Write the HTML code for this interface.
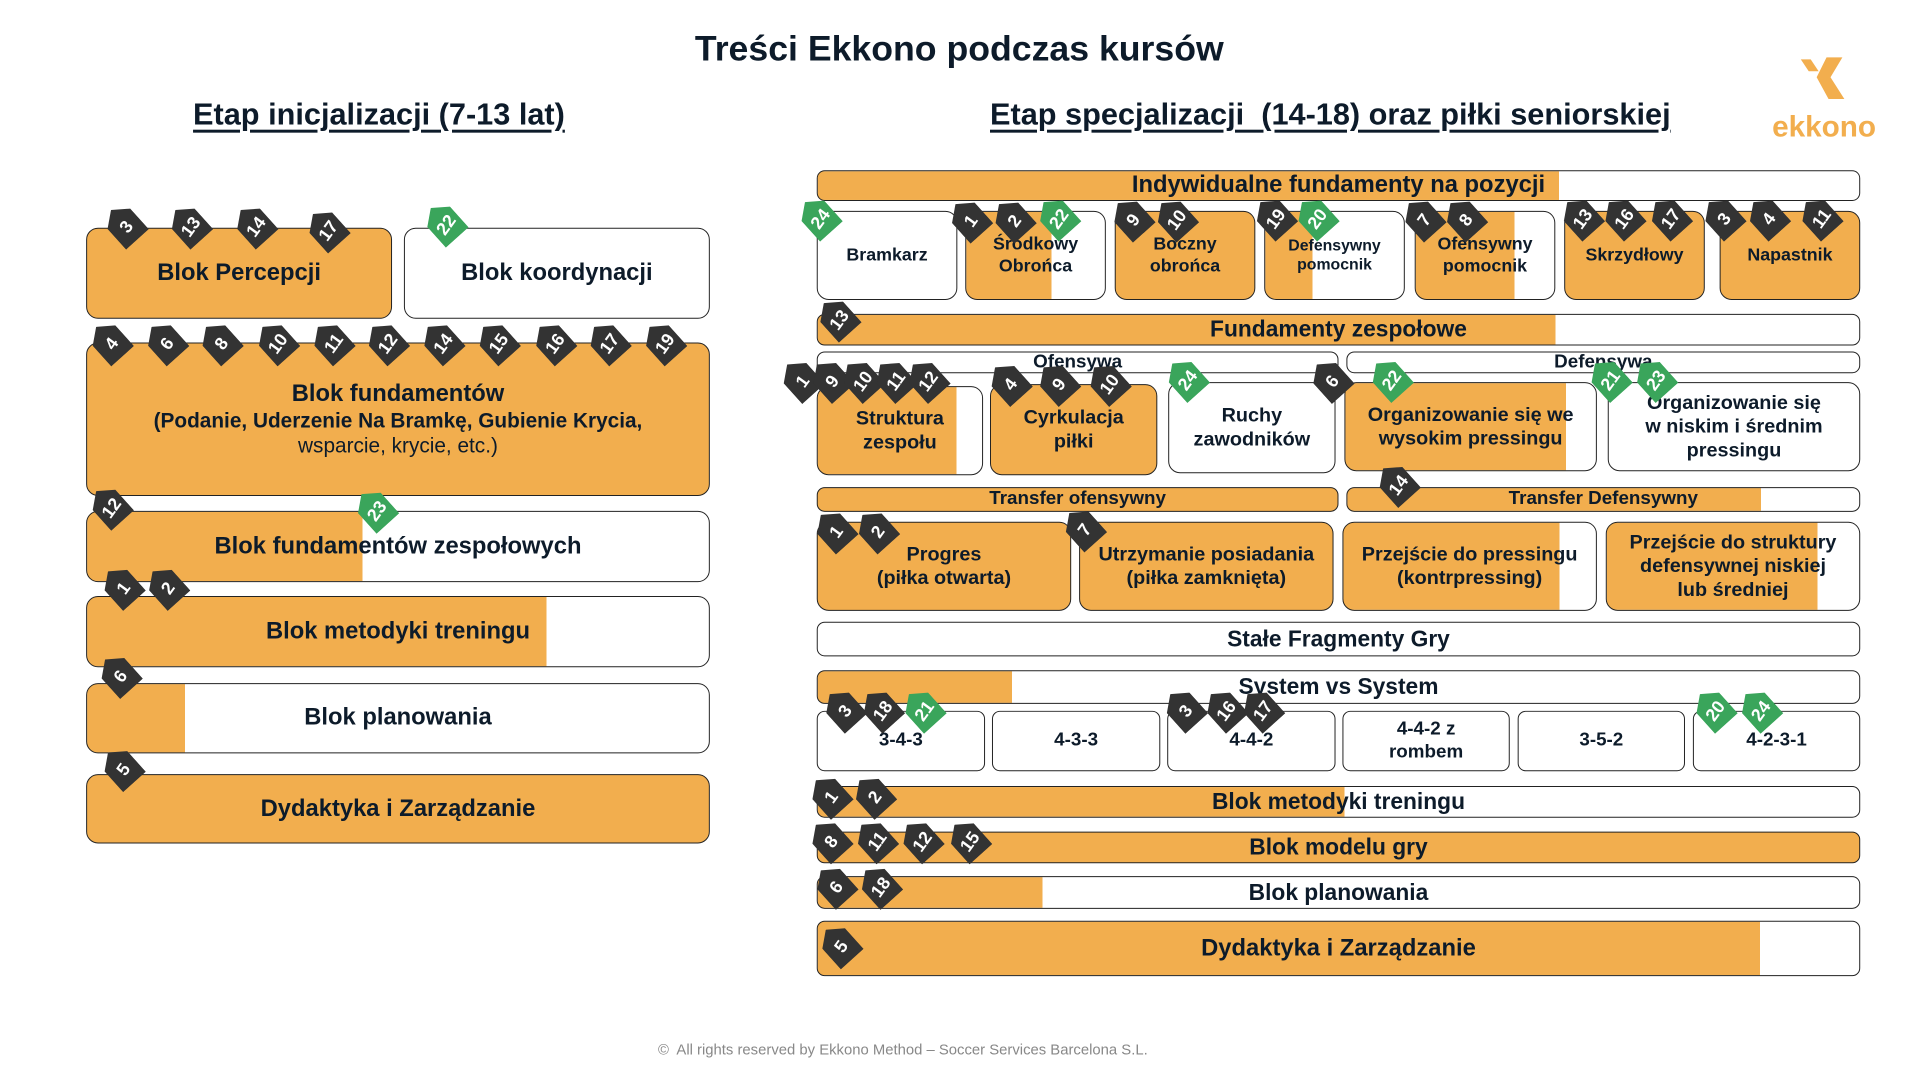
<!DOCTYPE html>
<html><head><meta charset="utf-8"><style>
*{margin:0;padding:0;box-sizing:border-box}
body{width:1920px;height:1080px;background:#fff;position:relative;overflow:hidden;font-family:"Liberation Sans Narrow","Liberation Sans",sans-serif;color:#0d1b2a}
#w{position:absolute;left:0;top:0;width:1940px;height:1090px;transform:scale(0.99);transform-origin:0 0}
.a{position:absolute}
.bx{position:absolute;border:1.5px solid #222;border-radius:12px;display:flex;align-items:center;justify-content:center;text-align:center;font-weight:bold;line-height:1.2;background:#fff}
.o{background:#F2AE4E}
.s{border-radius:8px}
.b{position:absolute;width:31px;height:40px;background:#333;clip-path:polygon(50% 0,100% 30%,100% 100%,0 100%,0 30%);transform:rotate(-42deg);color:#fff;font:bold 18px "Liberation Sans",sans-serif;display:flex;align-items:center;justify-content:center;z-index:5}
.b span{transform:rotate(-12deg);display:block;padding-top:7px}
.g{background:#3aa55b}
h1{position:absolute;left:0;width:1938px;top:28px;text-align:center;font:bold 36px "Liberation Sans",sans-serif}
.h2{position:absolute;font:bold 31px "Liberation Sans Narrow","Liberation Sans",sans-serif;text-decoration:underline;text-underline-offset:5px;text-decoration-thickness:3px}
</style></head><body><div id="w">
<h1>Treści Ekkono podczas kursów</h1>
<div class="h2" style="left:195px;top:98px">Etap inicjalizacji (7-13 lat)</div>
<div class="h2" style="left:1000px;top:98px">Etap specjalizacji&nbsp; (14-18) oraz piłki seniorskiej</div>
<svg class="a" style="left:1815px;top:56px" width="62" height="46"><polygon points="4,4 14,4 22,16 12,16" fill="#F2AE4E"/><polygon points="30,2 46,2 34,22 48,44 32,44 20,22" fill="#F2AE4E"/></svg>
<div class="a" style="left:1790px;top:112px;font:bold 30px 'Liberation Sans',sans-serif;color:#F2AE4E">ekkono</div>

<div class="bx o" style="left:87px;top:230px;width:309px;height:92px;font-size:24px">Blok Percepcji</div>
<div class="bx" style="left:408px;top:230px;width:309px;height:92px;font-size:24px">Blok koordynacji</div>
<div class="bx o" style="left:87px;top:346px;width:630px;height:155px;font-size:24px;flex-direction:column">Blok fundamentów<div style="font-size:21px">(Podanie, Uderzenie Na Bramkę, Gubienie Krycia,<br><span style="font-weight:normal">wsparcie, krycie, etc.)</span></div></div>
<div class="bx" style="left:87px;top:516px;width:630px;height:72px;font-size:24px;background:linear-gradient(90deg,#F2AE4E 278px,#fff 278px)">Blok fundamentów zespołowych</div>
<div class="bx" style="left:87px;top:602px;width:630px;height:72px;font-size:24px;background:linear-gradient(90deg,#F2AE4E 464px,#fff 464px)">Blok metodyki treningu</div>
<div class="bx" style="left:87px;top:690px;width:630px;height:71px;font-size:24px;background:linear-gradient(90deg,#F2AE4E 99px,#fff 99px)">Blok planowania</div>
<div class="bx o" style="left:87px;top:782px;width:630px;height:70px;font-size:24px">Dydaktyka i Zarządzanie</div>

<div class="bx s" style="left:825px;top:172px;width:1054px;height:31px;font-size:24px;background:linear-gradient(90deg,#F2AE4E 749px,#fff 749px)">Indywidualne fundamenty na pozycji</div>
<div class="bx" style="left:825px;top:213px;width:142px;height:90px;font-size:18px">Bramkarz</div>
<div class="bx" style="left:975px;top:213px;width:142px;height:90px;font-size:18px;background:linear-gradient(90deg,#F2AE4E 86px,#fff 86px)">Środkowy<br>Obrońca</div>
<div class="bx o" style="left:1126px;top:213px;width:142px;height:90px;font-size:18px">Boczny<br>obrońca</div>
<div class="bx" style="left:1277px;top:213px;width:142px;height:90px;font-size:16px;background:linear-gradient(90deg,#F2AE4E 48px,#fff 48px)">Defensywny<br>pomocnik</div>
<div class="bx" style="left:1429px;top:213px;width:142px;height:90px;font-size:18px;background:linear-gradient(90deg,#F2AE4E 100px,#fff 100px)">Ofensywny<br>pomocnik</div>
<div class="bx o" style="left:1580px;top:213px;width:142px;height:90px;font-size:18px">Skrzydłowy</div>
<div class="bx o" style="left:1737px;top:213px;width:142px;height:90px;font-size:18px">Napastnik</div>
<div class="bx s" style="left:825px;top:317px;width:1054px;height:32px;font-size:23px;background:linear-gradient(90deg,#F2AE4E 745px,#fff 745px)">Fundamenty zespołowe</div>
<div class="bx s" style="left:825px;top:355px;width:527px;height:22px;font-size:19px">Ofensywa</div>
<div class="bx s" style="left:1360px;top:355px;width:519px;height:22px;font-size:19px">Defensywa</div>
<div class="bx" style="left:825px;top:390px;width:168px;height:90px;font-size:20px;background:linear-gradient(90deg,#F2AE4E 140px,#fff 140px)">Struktura<br>zespołu</div>
<div class="bx o" style="left:1000px;top:388px;width:169px;height:92px;font-size:20px">Cyrkulacja<br>piłki</div>
<div class="bx" style="left:1180px;top:386px;width:169px;height:92px;font-size:20px">Ruchy<br>zawodników</div>
<div class="bx" style="left:1358px;top:386px;width:255px;height:90px;font-size:20px;background:linear-gradient(90deg,#F2AE4E 223px,#fff 223px)">Organizowanie się we<br>wysokim pressingu</div>
<div class="bx" style="left:1624px;top:386px;width:255px;height:90px;font-size:20px">Organizowanie się<br>w niskim i średnim<br>pressingu</div>
<div class="bx s o" style="left:825px;top:492px;width:527px;height:25px;font-size:19px">Transfer ofensywny</div>
<div class="bx s" style="left:1360px;top:492px;width:519px;height:25px;font-size:19px;background:linear-gradient(90deg,#F2AE4E 418px,#fff 418px)">Transfer Defensywny</div>
<div class="bx o" style="left:825px;top:527px;width:257px;height:90px;font-size:20px">Progres<br>(piłka otwarta)</div>
<div class="bx o" style="left:1090px;top:527px;width:257px;height:90px;font-size:20px">Utrzymanie posiadania<br>(piłka zamknięta)</div>
<div class="bx" style="left:1356px;top:527px;width:257px;height:90px;font-size:20px;background:linear-gradient(90deg,#F2AE4E 218px,#fff 218px)">Przejście do pressingu<br>(kontrpressing)</div>
<div class="bx" style="left:1622px;top:527px;width:257px;height:90px;font-size:20px;background:linear-gradient(90deg,#F2AE4E 213px,#fff 213px)">Przejście do struktury<br>defensywnej niskiej<br>lub średniej</div>
<div class="bx s" style="left:825px;top:628px;width:1054px;height:35px;font-size:23px">Stałe Fragmenty Gry</div>
<div class="bx s" style="left:825px;top:677px;width:1054px;height:34px;font-size:23px;background:linear-gradient(90deg,#F2AE4E 196px,#fff 196px)">System vs System</div>
<div class="bx s" style="left:825px;top:718px;width:170px;height:61px;font-size:19px">3-4-3</div>
<div class="bx s" style="left:1002px;top:718px;width:170px;height:61px;font-size:19px">4-3-3</div>
<div class="bx s" style="left:1179px;top:718px;width:170px;height:61px;font-size:19px">4-4-2</div>
<div class="bx s" style="left:1356px;top:718px;width:169px;height:61px;font-size:19px">4-4-2 z<br>rombem</div>
<div class="bx s" style="left:1533px;top:718px;width:169px;height:61px;font-size:19px">3-5-2</div>
<div class="bx s" style="left:1710px;top:718px;width:169px;height:61px;font-size:19px">4-2-3-1</div>
<div class="bx s" style="left:825px;top:794px;width:1054px;height:32px;font-size:23px;background:linear-gradient(90deg,#F2AE4E 532px,#fff 532px)">Blok metodyki treningu</div>
<div class="bx s o" style="left:825px;top:840px;width:1054px;height:32px;font-size:23px">Blok modelu gry</div>
<div class="bx s" style="left:825px;top:885px;width:1054px;height:33px;font-size:23px;background:linear-gradient(90deg,#F2AE4E 227px,#fff 227px)">Blok planowania</div>
<div class="bx s" style="left:825px;top:930px;width:1054px;height:56px;font-size:24px;background:linear-gradient(90deg,#F2AE4E 952px,#fff 952px)">Dydaktyka i Zarządzanie</div>

<div class="a" style="left:0;width:1824px;top:1052px;text-align:center;font:15px 'Liberation Sans',sans-serif;color:#888">©&nbsp; All rights reserved by Ekkono Method – Soccer Services Barcelona S.L.</div>

<div class="b" style="left:110px;top:207px"><span>3</span></div>
<div class="b" style="left:175px;top:207px"><span>13</span></div>
<div class="b" style="left:241px;top:207px"><span>14</span></div>
<div class="b" style="left:314px;top:211px"><span>17</span></div>
<div class="b g" style="left:433px;top:205px"><span>22</span></div>
<div class="b" style="left:95px;top:325px"><span>4</span></div>
<div class="b" style="left:151px;top:325px"><span>6</span></div>
<div class="b" style="left:206px;top:325px"><span>8</span></div>
<div class="b" style="left:263px;top:325px"><span>10</span></div>
<div class="b" style="left:319px;top:325px"><span>11</span></div>
<div class="b" style="left:374px;top:325px"><span>12</span></div>
<div class="b" style="left:430px;top:325px"><span>14</span></div>
<div class="b" style="left:486px;top:325px"><span>15</span></div>
<div class="b" style="left:543px;top:325px"><span>16</span></div>
<div class="b" style="left:598px;top:325px"><span>17</span></div>
<div class="b" style="left:654px;top:325px"><span>19</span></div>
<div class="b" style="left:95px;top:491px"><span>12</span></div>
<div class="b g" style="left:363px;top:494px"><span>23</span></div>
<div class="b" style="left:107px;top:572px"><span>1</span></div>
<div class="b" style="left:152px;top:572px"><span>2</span></div>
<div class="b" style="left:104px;top:661px"><span>6</span></div>
<div class="b" style="left:107px;top:755px"><span>5</span></div>

<div class="b g" style="left:811px;top:199px"><span>24</span></div>
<div class="b" style="left:963px;top:201px"><span>1</span></div>
<div class="b" style="left:1007px;top:201px"><span>2</span></div>
<div class="b g" style="left:1052px;top:199px"><span>22</span></div>
<div class="b" style="left:1127px;top:200px"><span>9</span></div>
<div class="b" style="left:1171px;top:200px"><span>10</span></div>
<div class="b" style="left:1271px;top:199px"><span>19</span></div>
<div class="b g" style="left:1313px;top:199px"><span>20</span></div>
<div class="b" style="left:1421px;top:200px"><span>7</span></div>
<div class="b" style="left:1463px;top:200px"><span>8</span></div>
<div class="b" style="left:1581px;top:199px"><span>13</span></div>
<div class="b" style="left:1623px;top:199px"><span>16</span></div>
<div class="b" style="left:1670px;top:199px"><span>17</span></div>
<div class="b" style="left:1724px;top:199px"><span>3</span></div>
<div class="b" style="left:1769px;top:199px"><span>4</span></div>
<div class="b" style="left:1822px;top:199px"><span>11</span></div>
<div class="b" style="left:830px;top:301px"><span>13</span></div>
<div class="b" style="left:793px;top:363px"><span>1</span></div>
<div class="b" style="left:823px;top:363px"><span>9</span></div>
<div class="b" style="left:854px;top:363px"><span>10</span></div>
<div class="b" style="left:887px;top:363px"><span>11</span></div>
<div class="b" style="left:920px;top:363px"><span>12</span></div>
<div class="b" style="left:1003px;top:366px"><span>4</span></div>
<div class="b" style="left:1052px;top:366px"><span>9</span></div>
<div class="b" style="left:1103px;top:366px"><span>10</span></div>
<div class="b g" style="left:1182px;top:362px"><span>24</span></div>
<div class="b" style="left:1328px;top:363px"><span>6</span></div>
<div class="b g" style="left:1388px;top:362px"><span>22</span></div>
<div class="b g" style="left:1609px;top:362px"><span>21</span></div>
<div class="b g" style="left:1655px;top:362px"><span>23</span></div>
<div class="b" style="left:1395px;top:468px"><span>14</span></div>
<div class="b" style="left:827px;top:515px"><span>1</span></div>
<div class="b" style="left:869px;top:515px"><span>2</span></div>
<div class="b" style="left:1078px;top:513px"><span>7</span></div>
<div class="b" style="left:836px;top:696px"><span>3</span></div>
<div class="b" style="left:874px;top:696px"><span>18</span></div>
<div class="b g" style="left:916px;top:696px"><span>21</span></div>
<div class="b" style="left:1180px;top:696px"><span>3</span></div>
<div class="b" style="left:1221px;top:696px"><span>16</span></div>
<div class="b" style="left:1258px;top:696px"><span>17</span></div>
<div class="b g" style="left:1715px;top:696px"><span>20</span></div>
<div class="b g" style="left:1761px;top:696px"><span>24</span></div>
<div class="b" style="left:822px;top:783px"><span>1</span></div>
<div class="b" style="left:866px;top:783px"><span>2</span></div>
<div class="b" style="left:822px;top:828px"><span>8</span></div>
<div class="b" style="left:868px;top:828px"><span>11</span></div>
<div class="b" style="left:914px;top:828px"><span>12</span></div>
<div class="b" style="left:962px;top:828px"><span>15</span></div>
<div class="b" style="left:827px;top:874px"><span>6</span></div>
<div class="b" style="left:872px;top:874px"><span>18</span></div>
<div class="b" style="left:832px;top:934px"><span>5</span></div>
</div></body></html>
